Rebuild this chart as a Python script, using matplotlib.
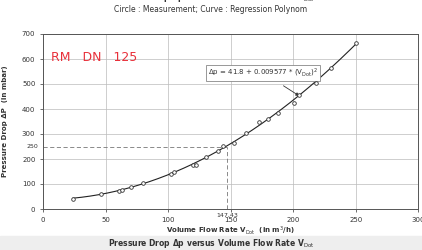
import numpy as np
import matplotlib
matplotlib.use('Agg')
import matplotlib.pyplot as plt
from matplotlib.patches import Rectangle

FLOW = [24, 46, 61, 63, 70, 80, 102, 105, 120, 122, 130, 140, 144, 153, 162,
        173, 180, 187.5, 201, 205, 218, 230, 250]
DP = [40, 60, 73, 76, 87, 103, 142, 149, 176, 178, 209, 233, 253, 265, 305,
      349, 360, 383, 425, 456, 505, 563, 665]

X_TICKS = [0, 50, 100, 150, 200, 250, 300]
Y_TICKS = [0, 100, 200, 300, 400, 500, 600, 700]
MARK_X, MARK_Y = 147.43, 250

TXT = '#333333'

fig = plt.figure(figsize=(4.22, 2.5), dpi=100)
fig.patches.append(Rectangle((0, 0), 1, 0.056, transform=fig.transFigure,
                             color='#eeeeee', zorder=0))
ax = fig.add_axes([0.102, 0.164, 0.889, 0.700])

# regression curve  dp = a + b * V^2, fitted to the points
x = np.array(FLOW, dtype=float)
A = np.vstack([np.ones_like(x), x ** 2]).T
a, b = np.linalg.lstsq(A, np.array(DP, dtype=float), rcond=None)[0]
xc = np.linspace(min(FLOW), max(FLOW), 200)
ax.plot(xc, a + b * xc ** 2, color='#222222', lw=0.8, zorder=3)
ax.plot(FLOW, DP, 'o', ms=2.6, mfc='white', mec='#333333', mew=0.6, zorder=4)

ax.plot([MARK_X, MARK_X], [0, MARK_Y], ls=(0, (5, 3)), color='#777777', lw=0.6)
ax.plot([0, MARK_X], [MARK_Y, MARK_Y], ls=(0, (5, 3)), color='#777777', lw=0.6)

ax.set_xlim(0, 300)
ax.set_ylim(0, 700)
ax.set_xticks(X_TICKS)
ax.set_yticks(Y_TICKS)
ax.grid(True, color='#bbbbbb', lw=0.5)
ax.tick_params(labelsize=5, colors=TXT, length=2, width=0.5)
for s in ax.spines.values():
    s.set_color('#555555')
    s.set_linewidth(0.7)

ax.text(-4, MARK_Y, '250', ha='right', va='center', fontsize=4.5, color=TXT)
ax.text(MARK_X, -14, '147,43', ha='center', va='top', fontsize=4.5, color=TXT)

ax.set_xlabel('Volume Flow Rate V$_{\\mathrm{Dot}}$  (in m$^3$/h)',
              fontsize=5, fontweight='bold', color=TXT, labelpad=1)
ax.set_ylabel('Pressure Drop ΔP  (in mbar)', fontsize=5, fontweight='bold',
              color=TXT, labelpad=10)

fig.text(0.5, 1.008, 'Pressure Drop Δp versus Volume Flow Rate V$_{\\mathrm{Dot}}$',
         ha='center', va='center', fontsize=5.5, fontweight='bold', color=TXT)
fig.text(0.5, 0.962, 'Circle : Measurement; Curve : Regression Polynom',
         ha='center', va='center', fontsize=5.5, color=TXT)
fig.text(0.5, 0.025, 'Pressure Drop Δp versus Volume Flow Rate V$_{\\mathrm{Dot}}$',
         ha='center', va='center', fontsize=5.5, fontweight='bold', color=TXT)

ax.text(6, 605, 'RM   DN   125', fontsize=9, color='#e8303a', va='center')

ax.annotate('Δp = 41.8 + 0.009577 * (V$_{\\mathrm{Dot}}$)$^2$',
            xy=(205, 452), xytext=(176, 545), ha='center', va='center',
            fontsize=5, color=TXT,
            bbox=dict(boxstyle='square,pad=0.3', fc='white', ec='#888888', lw=0.6),
            arrowprops=dict(arrowstyle='-|>', color='#333333', lw=0.6,
                            mutation_scale=5, shrinkA=6, shrinkB=0))

plt.savefig('out.png', dpi=100)
